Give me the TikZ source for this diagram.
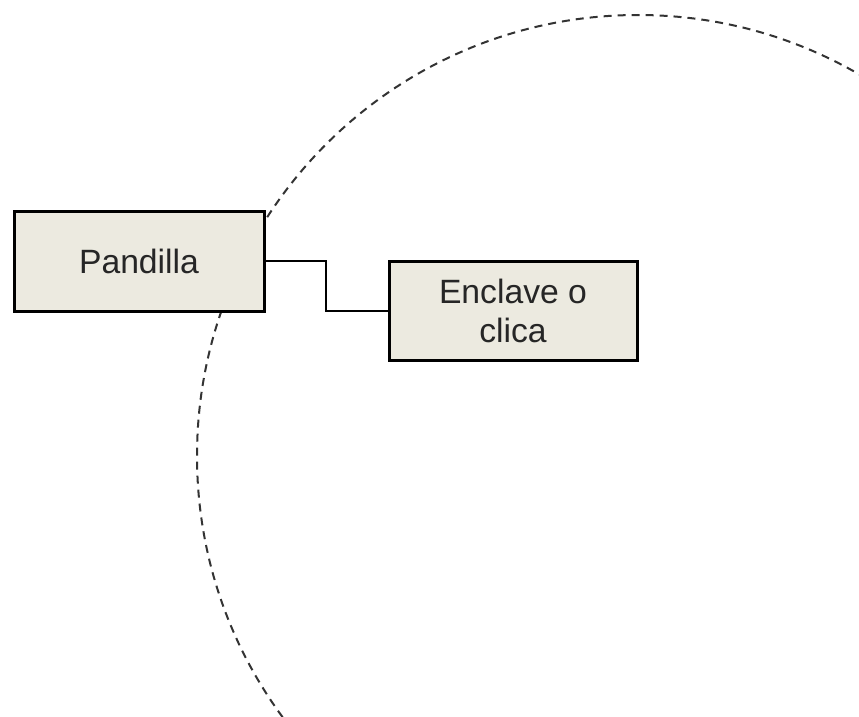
\documentclass[tikz,border=0pt]{standalone}
\usepackage{fontspec}
\setmainfont{Liberation Sans}
\definecolor{boxfill}{HTML}{ECEAE0}
\definecolor{dashgray}{HTML}{333333}
\begin{document}
\begin{tikzpicture}[x=1pt,y=-1pt,
  entity/.style={draw=black, line width=3pt, fill=boxfill, minimum width=250pt, minimum height=100pt,
    inner sep=0pt, align=center, font=\fontsize{33.7}{39}\selectfont, text=black!85},
  link/.style={draw=black, line width=2pt},
  boundary/.style={draw=dashgray, line width=2pt, dash pattern=on 8pt off 6pt}]
\useasboundingbox (0,0) rectangle (859,717);
\draw[boundary] (638,456) circle[radius=441];
\node[entity] (pandilla) at (139,261) {Pandilla};
\node[entity, minimum width=248pt, minimum height=99pt] (enclave) at (513,310.5) {Enclave o\\clica};
\coordinate (mid) at (326,0);
\draw[link] (pandilla.east) -- (pandilla.east -| mid) -- (enclave.west -| mid) -- (enclave.west);
\end{tikzpicture}
\end{document}
